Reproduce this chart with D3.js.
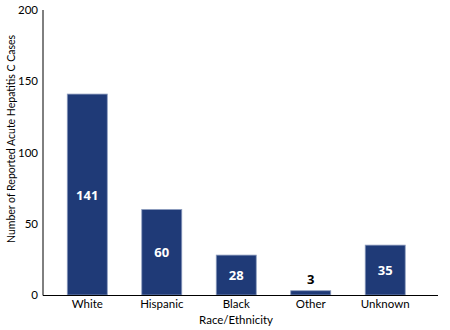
<!DOCTYPE html>
<html><head><meta charset="utf-8">
<script src="https://cdn.jsdelivr.net/npm/d3@7"></script>
<style>body{margin:0;background:#fff}</style>
</head><body>
<svg id="c" width="450" height="330"></svg>
<script>
const categories = ["White","Hispanic","Black","Other","Unknown"];
const values = [141,60,28,3,35];
const yTicks = [0,50,100,150,200];

const svg = d3.select("#c");
const x = d3.scaleBand().domain(categories).range([50,422.5]).paddingInner(0.463).paddingOuter(0.232);
const y = d3.scaleLinear().domain([0,200]).range([295,10]);
const font = "Lato, 'Open Sans', sans-serif";

svg.selectAll("rect.bar").data(values).join("rect").attr("class","bar")
  .attr("x",(d,i)=>x(categories[i])).attr("width",x.bandwidth())
  .attr("y",d=>y(d)).attr("height",d=>y(0)-y(d))
  .attr("fill","#1f3a77").attr("stroke","#8b9bbd").attr("stroke-width",0.8);

svg.selectAll("text.val").data(values).join("text").attr("class","val")
  .attr("x",(d,i)=>x(categories[i])+x.bandwidth()/2)
  .attr("y",d=> d<10 ? y(d)-7 : (y(d)+y(0))/2+5)
  .attr("text-anchor","middle").attr("font-family","'Open Sans', sans-serif").attr("font-weight","bold")
  .attr("font-size",13).attr("fill",d=>d<10?"#000":"#fff").text(d=>d);

const ya = svg.append("g").attr("transform","translate(43,0)")
  .call(d3.axisLeft(y).tickValues(yTicks).tickSize(0).tickPadding(5));
ya.select(".domain").attr("stroke","#000").attr("d","M0,10V295.5");
ya.selectAll("text").attr("font-family",font).attr("font-size",11.5).attr("fill","#000");

const xa = svg.append("g").attr("transform","translate(0,295)")
  .call(d3.axisBottom(x).tickSize(0).tickPadding(5));
xa.select(".domain").attr("stroke","#000").attr("d","M43,0.5H438");
xa.selectAll("text").attr("font-family",font).attr("font-size",11.5).attr("fill","#000");

svg.append("text").attr("x",236).attr("y",324).attr("text-anchor","middle")
  .attr("font-family",font).attr("font-size",11.5).text("Race/Ethnicity");
svg.append("text").attr("transform","translate(15,139) rotate(-90)").attr("text-anchor","middle")
  .attr("font-family",font).attr("font-size",10.5)
  .text("Number of Reported Acute Hepatitis C Cases");
</script>
</body></html>
